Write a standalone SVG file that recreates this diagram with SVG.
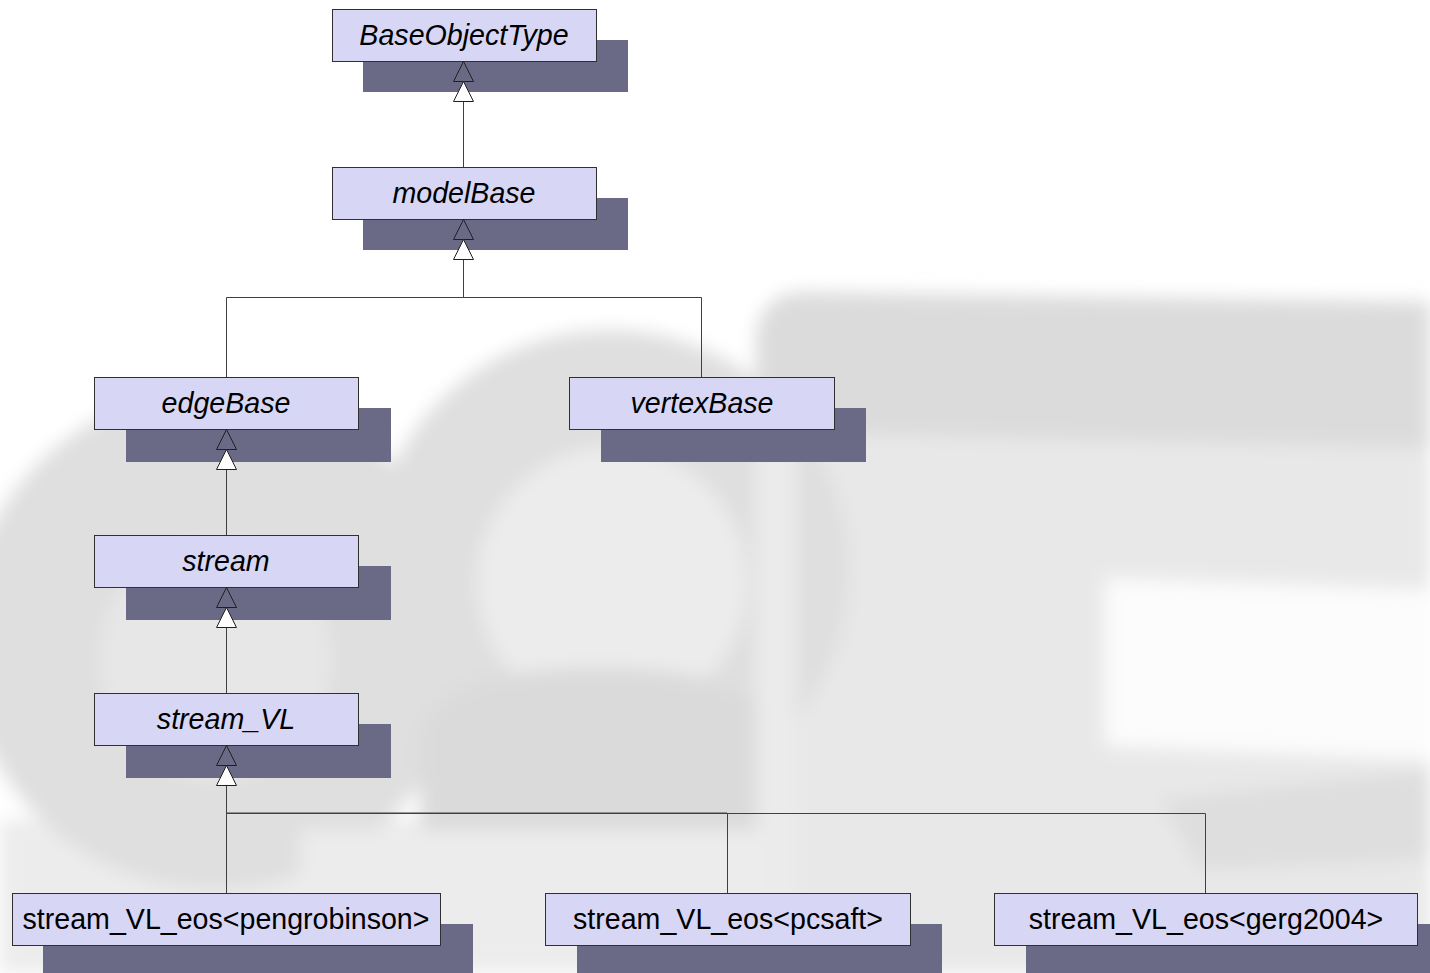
<svg xmlns="http://www.w3.org/2000/svg" width="1430" height="973" viewBox="0 0 1430 973">
<style>
.box{fill:#d7d7f5;stroke:#303030;stroke-width:1}
.shadow{fill:#6a6a86}
.lbl{font-family:"Liberation Sans",Arial,sans-serif;font-size:28.6px;fill:#000;text-anchor:middle}
.abs{font-style:italic}
.edge{fill:none;stroke:#404040;stroke-width:1}
.tri{stroke:#202020;stroke-width:1}
</style>
<defs>
<filter id="blur" x="-20%" y="-20%" width="140%" height="140%"><feGaussianBlur stdDeviation="9"/></filter>
<g id="gen">
<polygon class="tri" points="0,0 -10,20 10,20" fill="none"/>
<polygon class="tri" points="0,20 -10,40 10,40" fill="#ffffff"/>
</g>
</defs>
<rect width="1430" height="973" fill="#ffffff"/>
<g id="watermark" filter="url(#blur)">
<path d="M800 292 Q758 296 756 340 L756 973 L1430 973 L1430 302 Z" fill="#e8e8e8"/>
<path d="M800 292 Q758 296 756 340 L756 432 L1430 448 L1430 302 Z" fill="#dbdbdb"/>
<path d="M1105 578 L1430 590 L1430 760 L1105 746 Z" fill="#fcfcfc"/>
<path d="M1160 800 L1430 770 L1430 860 L1200 870 Z" fill="#dedede"/>
<rect x="0" y="820" width="780" height="153" fill="#ececec"/>
<circle cx="215" cy="640" r="250" fill="#dfdfdf"/>
<ellipse cx="215" cy="660" rx="115" ry="120" fill="#e7e7e7"/>
<circle cx="610" cy="570" r="240" fill="#dfdfdf"/>
<circle cx="612" cy="582" r="135" fill="#ececec"/>
<path d="M420 830 L420 740 Q430 668 600 668 Q765 668 770 740 L770 830 Z" fill="#dadada"/>
<rect x="300" y="830" width="470" height="143" fill="#ececec"/>
<rect x="756" y="450" width="40" height="523" fill="#ebebeb"/>
</g>
<g id="connectors">
<path class="edge" d="M463.5 167 V101"/>
<path class="edge" d="M226.5 377 V297.5 H463.5 V259"/>
<path class="edge" d="M701.5 377 V297.5 H463.5 V259"/>
<path class="edge" d="M226.5 535 V470"/>
<path class="edge" d="M226.5 693 V627"/>
<path class="edge" d="M226.5 893 V785"/>
<path class="edge" d="M727.5 893 V813.5 H226.5 V785"/>
<path class="edge" d="M1205.5 893 V813.5 H226.5 V785"/>
<path class="edge" d="M727 813 H226.5" stroke-width="1.5"/>
</g>
<g id="BaseObjectType">
<rect class="shadow" x="363" y="40" width="265" height="52"/>
<rect class="box" x="332.5" y="9.5" width="264" height="52"/>
<text class="lbl abs" x="464" y="45">BaseObjectType</text>
</g>
<g id="modelBase">
<rect class="shadow" x="363" y="198" width="265" height="52"/>
<rect class="box" x="332.5" y="167.5" width="264" height="52"/>
<text class="lbl abs" x="464" y="203">modelBase</text>
</g>
<g id="edgeBase">
<rect class="shadow" x="126" y="408" width="265" height="54"/>
<rect class="box" x="94.5" y="377.5" width="264" height="52"/>
<text class="lbl abs" x="226" y="413">edgeBase</text>
</g>
<g id="vertexBase">
<rect class="shadow" x="601" y="408" width="265" height="54"/>
<rect class="box" x="569.5" y="377.5" width="265" height="52"/>
<text class="lbl abs" x="702" y="413">vertexBase</text>
</g>
<g id="stream">
<rect class="shadow" x="126" y="566" width="265" height="54"/>
<rect class="box" x="94.5" y="535.5" width="264" height="52"/>
<text class="lbl abs" x="226" y="571">stream</text>
</g>
<g id="stream_VL">
<rect class="shadow" x="126" y="724" width="265" height="54"/>
<rect class="box" x="94.5" y="693.5" width="264" height="52"/>
<text class="lbl abs" x="226" y="729">stream_VL</text>
</g>
<g id="stream_VL_eos_pengrobinson">
<rect class="shadow" x="43" y="924" width="430" height="49"/>
<rect class="box" x="12.5" y="893.5" width="428" height="52"/>
<text class="lbl" x="226" y="929">stream_VL_eos&lt;pengrobinson&gt;</text>
</g>
<g id="stream_VL_eos_pcsaft">
<rect class="shadow" x="577" y="924" width="365" height="49"/>
<rect class="box" x="545.5" y="893.5" width="365" height="52"/>
<text class="lbl" x="728" y="929">stream_VL_eos&lt;pcsaft&gt;</text>
</g>
<g id="stream_VL_eos_gerg2004">
<rect class="shadow" x="1026" y="924" width="404" height="49"/>
<rect class="box" x="994.5" y="893.5" width="423" height="52"/>
<text class="lbl" x="1206" y="929">stream_VL_eos&lt;gerg2004&gt;</text>
</g>
<g id="arrowheads">
<use href="#gen" x="463.5" y="61.5"/>
<use href="#gen" x="463.5" y="219.5"/>
<use href="#gen" x="226.5" y="429.5"/>
<use href="#gen" x="226.5" y="587.5"/>
<use href="#gen" x="226.5" y="745.5"/>
</g>
</svg>
